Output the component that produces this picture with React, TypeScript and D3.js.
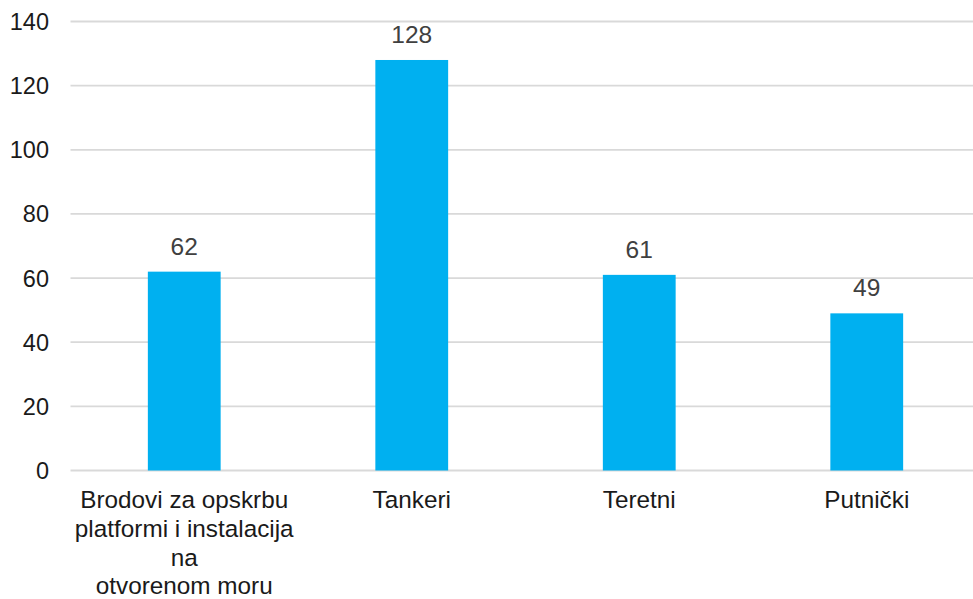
import React from "react";
import * as d3 from "d3";

const categories = [
  "Brodovi za opskrbu platformi i instalacija na otvorenom moru",
  "Tankeri",
  "Teretni",
  "Putnički",
];
const categoryLines = [
  ["Brodovi za opskrbu", "platformi i instalacija", "na", "otvorenom moru"],
  ["Tankeri"],
  ["Teretni"],
  ["Putnički"],
];
const values = [62, 128, 61, 49];
const yTicks = [0, 20, 40, 60, 80, 100, 120, 140];

const W = 973;
const H = 599;

export default function App() {
  const x = d3
    .scaleBand<string>()
    .domain(categories)
    .range([70.5, 980.5])
    .paddingInner(0.68)
    .paddingOuter(0.34);
  const y = d3.scaleLinear().domain([0, 140]).range([470.5, 21.5]);
  const font = "'Liberation Sans', Arial, sans-serif";

  return (
    <svg
      width={W}
      height={H}
      style={{ position: "absolute", left: 0, top: 0, background: "#fff" }}
      fontFamily={font}
    >
      {yTicks.map((t) => (
        <g key={t}>
          <line x1={70.5} x2={W} y1={y(t)} y2={y(t)} stroke="#d9d9d9" strokeWidth={1.8} />
          <text
            x={49}
            y={y(t)}
            dy="0.36em"
            textAnchor="end"
            fontSize={23.5}
            fill="#1a1a1a"
          >
            {t}
          </text>
        </g>
      ))}
      {categories.map((c, i) => {
        const bx = x(c)!;
        const bw = x.bandwidth();
        const cx = bx + bw / 2;
        return (
          <g key={c}>
            <rect x={bx} y={y(values[i])} width={bw} height={y(0) - y(values[i])} fill="#00B0F0" />
            <text
              x={cx}
              y={y(values[i]) - 17}
              textAnchor="middle"
              fontSize={24.5}
              fill="#404040"
            >
              {values[i]}
            </text>
            {categoryLines[i].map((ln, j) => (
              <text
                key={j}
                x={cx}
                y={508 + j * 28.8}
                textAnchor="middle"
                fontSize={24.3}
                fill="#1a1a1a"
              >
                {ln}
              </text>
            ))}
          </g>
        );
      })}
    </svg>
  );
}
